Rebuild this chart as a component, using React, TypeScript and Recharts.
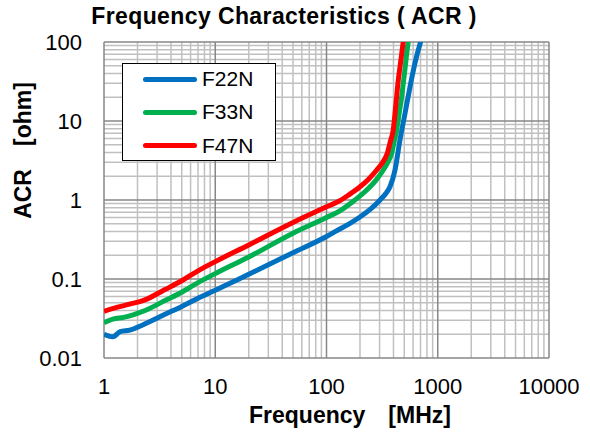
import { LineChart, Line, XAxis, YAxis, ReferenceLine } from "recharts";

const FONT = "'Liberation Sans', Arial, sans-serif";

// axis ticks (log decades)
const X_TICKS = [1, 10, 100, 1000, 10000];
const Y_TICKS = [0.01, 0.1, 1, 10, 100];
const MINOR_STEPS = [2, 3, 4, 5, 6, 7, 8, 9];
const X_MINOR = [1, 10, 100, 1000].flatMap((d) => MINOR_STEPS.map((m) => m * d));
const Y_MINOR = [0.01, 0.1, 1, 10].flatMap((d) => MINOR_STEPS.map((m) => +(m * d).toPrecision(3)));

// F22N  frequency [MHz] / ACR [ohm]
const F22N_FREQ = [1, 1.2, 1.4, 1.7, 2.2, 2.6, 3.5, 5, 7, 10, 20, 50, 100, 124, 160, 200, 250, 303, 340, 372, 413, 458, 508, 563, 624, 701, 760];
const F22N_ACR = [0.02, 0.0186, 0.0215, 0.0225, 0.026, 0.029, 0.0355, 0.045, 0.057, 0.072, 0.115, 0.215, 0.345, 0.41, 0.5, 0.61, 0.77, 1.0, 1.2, 1.47, 2.4, 5.8, 12.5, 27, 54, 100, 140];

// F33N
const F33N_FREQ = [1, 1.2, 1.5, 1.8, 2.4, 3.5, 5, 7, 10, 20, 50, 100, 132, 180, 230, 280, 324, 355, 385, 405, 427, 450, 473, 505, 543, 580];
const F33N_ACR = [0.028, 0.031, 0.0327, 0.035, 0.0405, 0.053, 0.068, 0.09, 0.117, 0.19, 0.38, 0.6, 0.73, 1.0, 1.34, 1.8, 2.4, 3.0, 3.9, 5.4, 7.7, 12.5, 20, 43, 100, 140];

// F47N
const F47N_FREQ = [1, 1.3, 1.7, 2.3, 3.5, 5, 7, 10, 20, 50, 100, 132, 160, 200, 240, 283, 320, 352, 375, 398, 420, 442, 465, 490, 510];
const F47N_ACR = [0.039, 0.0437, 0.048, 0.054, 0.073, 0.095, 0.127, 0.166, 0.27, 0.52, 0.82, 0.98, 1.17, 1.47, 1.85, 2.4, 3.0, 3.9, 5.5, 7.7, 16, 33, 57, 100, 140];

const toPoints = (freq: number[], acr: number[]) => freq.map((f, i) => ({ f, v: acr[i] }));

const SERIES = [
  { name: "F22N", color: "#0070C0", data: toPoints(F22N_FREQ, F22N_ACR) },
  { name: "F33N", color: "#00B050", data: toPoints(F33N_FREQ, F33N_ACR) },
  { name: "F47N", color: "#FF0000", data: toPoints(F47N_FREQ, F47N_ACR) },
];

const MINOR_GRID = "#c0c0c0";
const MAJOR_GRID = "#878787";

export default function App() {
  return (
    <div
      style={{
        position: "absolute",
        left: 0,
        top: 0,
        width: 590,
        height: 432,
        background: "#fff",
        fontFamily: FONT,
        color: "#000",
      }}
    >
      <LineChart width={590} height={432} margin={{ top: 42, right: 41, bottom: 0, left: 0 }}>
        <XAxis
          dataKey="f"
          type="number"
          scale="log"
          domain={[1, 10000]}
          ticks={X_TICKS}
          interval={0}
          allowDataOverflow
          axisLine={false}
          tickLine={false}
          tickSize={0}
          tickMargin={20}
          height={74}
          tick={{ fontSize: 22, fill: "#000", fontFamily: FONT }}
        />
        <YAxis
          dataKey="v"
          type="number"
          scale="log"
          domain={[0.01, 100]}
          ticks={Y_TICKS}
          interval={0}
          allowDataOverflow
          axisLine={false}
          tickLine={false}
          tickSize={0}
          tickMargin={22}
          width={104}
          tick={{ fontSize: 22, fill: "#000", fontFamily: FONT }}
          tickFormatter={(v: number) => String(v)}
        />
        {X_MINOR.map((x) => (
          <ReferenceLine key={"xm" + x} x={x} stroke={MINOR_GRID} strokeWidth={1.5} />
        ))}
        {Y_MINOR.map((y) => (
          <ReferenceLine key={"ym" + y} y={y} stroke={MINOR_GRID} strokeWidth={1.5} />
        ))}
        {X_TICKS.map((x) => (
          <ReferenceLine key={"xM" + x} x={x} stroke={MAJOR_GRID} strokeWidth={1.5} />
        ))}
        {Y_TICKS.map((y) => (
          <ReferenceLine key={"yM" + y} y={y} stroke={MAJOR_GRID} strokeWidth={1.5} />
        ))}
        {SERIES.map((s) => (
          <Line
            key={s.name}
            data={s.data}
            dataKey="v"
            name={s.name}
            type="monotone"
            stroke={s.color}
            strokeWidth={5}
            dot={false}
            activeDot={false}
            isAnimationActive={false}
          />
        ))}
      </LineChart>

      {/* title */}
      <div
        style={{
          position: "absolute",
          left: 0,
          width: 568,
          top: 5,
          textAlign: "center",
          fontSize: 23,
          lineHeight: "23px",
          fontWeight: "bold",
          letterSpacing: 0.4,
          whiteSpace: "nowrap",
        }}
      >
        Frequency Characteristics ( ACR )
      </div>

      {/* x axis title */}
      <div
        style={{
          position: "absolute",
          left: 150,
          width: 400,
          top: 404,
          textAlign: "center",
          fontSize: 23,
          lineHeight: "23px",
          fontWeight: "bold",
          whiteSpace: "nowrap",
        }}
      >
        Frequency{"\u2003"}[MHz]
      </div>

      {/* y axis title */}
      <div
        style={{
          position: "absolute",
          left: 23 - 100,
          width: 200,
          top: 150 - 11.5,
          textAlign: "center",
          fontSize: 23,
          lineHeight: "23px",
          fontWeight: "bold",
          whiteSpace: "nowrap",
          transform: "rotate(-90deg)",
        }}
      >
        ACR{"\u2003"}[ohm]
      </div>

      {/* legend */}
      <div
        style={{
          position: "absolute",
          left: 122,
          top: 63,
          width: 154,
          height: 98,
          boxSizing: "border-box",
          border: "1.5px solid #000",
          background: "#fff",
        }}
      >
        {SERIES.map((s, i) => (
          <div key={s.name} style={{ position: "absolute", left: 0, top: 15 + i * 33.3, height: 0 }}>
            <div
              style={{
                position: "absolute",
                left: 20,
                top: -2.5,
                width: 54,
                height: 5,
                borderRadius: 2.5,
                background: s.color,
              }}
            />
            <div
              style={{
                position: "absolute",
                left: 79,
                top: -11,
                fontSize: 21,
                lineHeight: "21px",
                whiteSpace: "nowrap",
              }}
            >
              {s.name}
            </div>
          </div>
        ))}
      </div>
    </div>
  );
}
